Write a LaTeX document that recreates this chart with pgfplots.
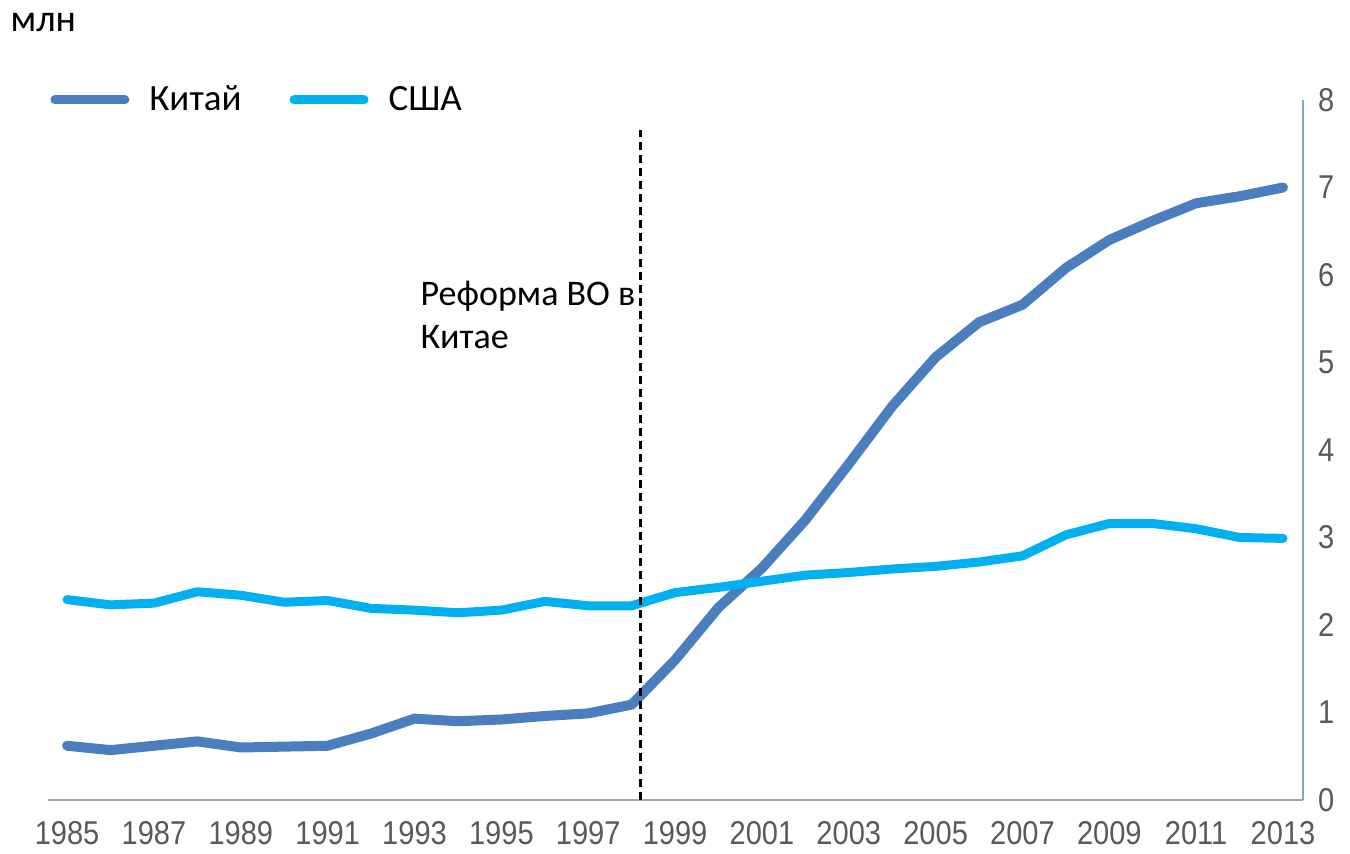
\documentclass[border=0pt]{standalone}
\usepackage{fontspec}
\setmainfont{Carlito}
\newfontfamily\tickfont[FakeStretch=0.88]{Liberation Sans}
\usepackage{pgfplots}
\pgfplotsset{compat=1.18}
\definecolor{cn}{HTML}{4A7EBF}
\definecolor{us}{HTML}{00B0F0}
\definecolor{tk}{HTML}{595959}
\definecolor{yax}{HTML}{7EA6DA}
\pgfplotstableread{
year china usa
1985 0.62 2.29
1986 0.57 2.23
1987 0.62 2.25
1988 0.67 2.38
1989 0.60 2.34
1990 0.61 2.26
1991 0.62 2.28
1992 0.76 2.19
1993 0.93 2.17
1994 0.90 2.14
1995 0.92 2.17
1996 0.96 2.27
1997 0.99 2.22
1998 1.09 2.22
1999 1.60 2.37
2000 2.20 2.43
2001 2.65 2.50
2002 3.20 2.57
2003 3.84 2.60
2004 4.50 2.64
2005 5.06 2.67
2006 5.46 2.72
2007 5.66 2.79
2008 6.08 3.03
2009 6.40 3.16
2010 6.62 3.16
2011 6.82 3.10
2012 6.90 3.00
2013 7.00 2.99
}\datatable
\begin{document}
\begin{tikzpicture}
\begin{axis}[
  scale only axis, width=627.5pt, height=350pt,
  xmin=1984.56, xmax=2013.46, ymin=0, ymax=8,
  axis x line*=bottom, axis y line*=right,
  x axis line style={color=black!35, line width=1.3pt},
  y axis line style={color=yax, line width=1pt},
  xtick={1985,1987,...,2013}, ytick={0,1,...,8},
  major tick length=0pt,
  /pgf/number format/assume math mode=true,
  /pgf/number format/set thousands separator={},
  xticklabel style={font=\tickfont\fontsize{16.5}{18}\selectfont, text=tk, yshift=-7pt},
  yticklabel style={font=\tickfont\fontsize{16.5}{18}\selectfont, text=tk, xshift=4pt},
  clip=false,
  legend columns=2,
  legend style={draw=none, fill=none, at={(0,1)}, anchor=west, xshift=-2pt,
    font=\fontsize{18.5}{22}\selectfont,
    /tikz/every odd column/.append style={column sep=8pt},
    /tikz/every even column/.append style={column sep=22pt}},
  legend cell align=left,
  legend image code/.code={\draw[#1, line width=4.5pt] (2pt,0pt) -- (37pt,0pt);},
]
\addplot[cn, line width=5pt, line join=round, line cap=round] table[x=year, y=china] {\datatable};
\addlegendentry{Китай}
\addplot[us, line width=4.5pt, line join=round, line cap=round] table[x=year, y=usa] {\datatable};
\addlegendentry{США}
\addplot[black, line width=1.5pt, dash pattern=on 4pt off 2.5pt, forget plot] coordinates {(1998.2,0) (1998.2,7.66)};
\node[anchor=north west, inner sep=0pt, align=left, font=\fontsize{18}{21.5}\selectfont] at (axis cs:1993.13,5.93) {Реформа ВО в\\Китае};
\node[anchor=base west, inner sep=0pt, font=\fontsize{19}{22}\selectfont] at (axis cs:1983.69,8.78) {млн};
\end{axis}
\path (current axis.south west) ++(-24pt,-26.5pt) coordinate (bba);
\path (current axis.north east) ++(23.5pt,50pt) coordinate (bbb);
\pgfresetboundingbox
\path[use as bounding box] (bba) rectangle (bbb);
\end{tikzpicture}
\end{document}
